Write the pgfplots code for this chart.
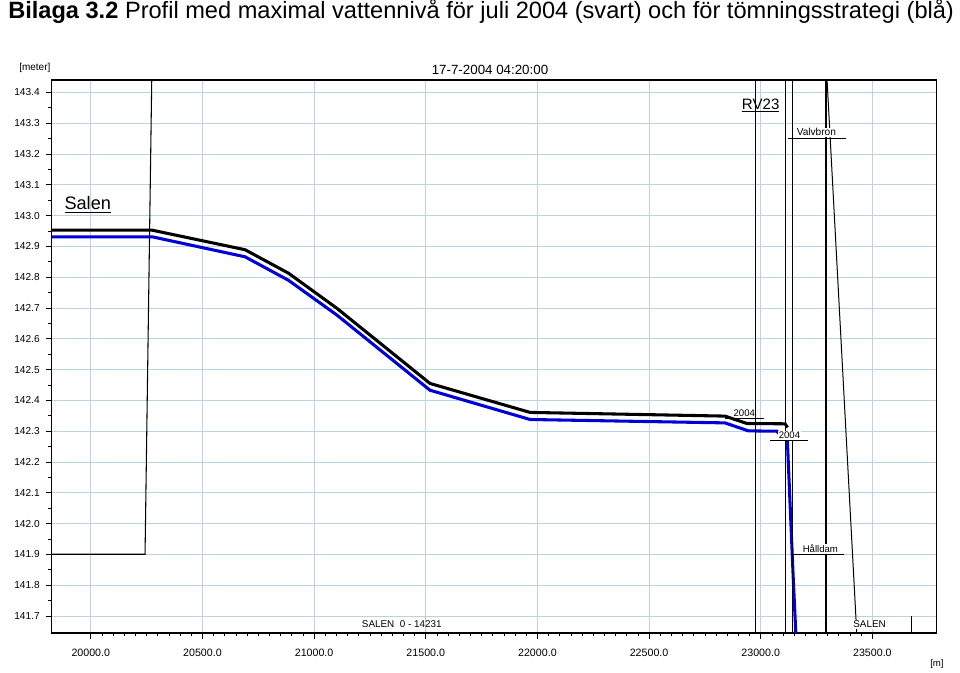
\documentclass[border=0pt]{standalone}
\usepackage{fontspec}
\setmainfont{Liberation Sans}
\usepackage{pgfplots}
\pgfplotsset{compat=1.18}
\definecolor{gridc}{RGB}{185,210,228}
\definecolor{lineblue}{RGB}{0,0,215}
\newcommand{\fs}[1]{\fontsize{#1}{#1}\selectfont}
\begin{document}
\begin{tikzpicture}
\path[use as bounding box] (0,0) rectangle (720pt,504.75pt);
\begin{axis}[
  at={(38.775pt,30pt)}, anchor=south west,
  scale only axis, width=663.75pt, height=414.75pt,
  xmin=19825, xmax=23788, ymin=141.645, ymax=143.44,
  xtick={20000,20500,21000,21500,22000,22500,23000,23500},
  ytick={141.7,141.8,141.9,142.0,142.1,142.2,142.3,142.4,142.5,142.6,142.7,142.8,142.9,143.0,143.1,143.2,143.3,143.4},
  minor x tick num=9, minor y tick num=1,
  scaled ticks=false,
  tick align=outside, tick pos=left,
  major tick length=4.5pt, minor tick length=2.6pt,
  grid=major, major grid style={gridc, line width=0.6pt},
  axis line style={line width=0.8pt},
  tick style={black, line width=0.6pt},
  /pgf/number format/assume math mode=true,
  xticklabel={\pgfmathprintnumber[fixed,fixed zerofill,precision=1,1000 sep={}]{\tick}},
  yticklabel={\pgfmathprintnumber[fixed,fixed zerofill,precision=1]{\tick}},
  xticklabel style={font=\fs{8}, anchor=north, yshift=-4pt},
  yticklabel style={font=\fs{7.6}, anchor=east, xshift=-1pt},
]
% bank / structure profile at Salen
\addplot[black, line width=0.8pt] coordinates {(19700,141.9005) (20243,141.9005) (20273,143.44) (20276,143.6)};
% maximal water level July 2004 (black)
\addplot[black, line width=2.3pt] coordinates {
(19700,142.9525) (20275,142.9525) (20691,142.889) (20885,142.813) (21102,142.699)
(21519,142.455) (21967,142.361) (22840,142.349) (22938,142.325) (23109,142.324) (23120,142.312)};
% emptying strategy (blue)
\addplot[lineblue, line width=2.3pt] coordinates {
(19700,142.931) (20275,142.931) (20691,142.866) (20885,142.790) (21102,142.677)
(21519,142.433) (21967,142.338) (22840,142.327) (22945,142.301) (23072,142.300)
(23119.5,142.266) (23146,141.816) (23160,141.6)};
% structures
\addplot[black, line width=0.75pt] coordinates {(22978,141.6) (22978,143.5)};
\addplot[black, line width=0.75pt] coordinates {(23110.5,141.6) (23110.5,143.5)};
\addplot[black, line width=0.75pt] coordinates {(23143.6,141.6) (23143.6,143.5)};
\addplot[black, line width=1.6pt] coordinates {(23292.7,141.6) (23292.7,143.5)};
\addplot[black, line width=0.75pt] coordinates {(23292.6,143.5) (23433.3,141.6)};
\addplot[black, line width=0.75pt] coordinates {(23676.5,141.70) (23676.5,141.6)};
\end{axis}
\begin{scope}[x=0.75pt,y=-0.75pt,shift={(0pt,504.75pt)}]
\node[anchor=base west, inner sep=0pt, font=\fs{17.7}] at (8,19)
  {\textbf{Bilaga 3.2} Profil med maximal vattennivå för juli 2004 (svart) och för tömningsstrategi (blå)};
\node[anchor=base west, inner sep=0pt, font=\fs{7.5}] at (19,71) {[meter]};
\node[anchor=base, inner sep=0pt, font=\fs{10}] at (490,75) {17-7-2004 04:20:00};
\node[anchor=base west, inner sep=0pt, font=\fs{7.2}] at (930,667) {[m]};
\node[anchor=base west, inner sep=0pt, font=\fs{13.6}] at (64.3,210) {\underline{Salen}};
\node[anchor=base west, inner sep=0pt, font=\fs{11.3}] at (741.7,109.3) {\underline{RV23}};
\node[anchor=base west, inner sep=0.6pt, fill=white, font=\fs{7.6}] at (795.7,136) {Valvbron};
\draw[line width=0.7pt] (788.3,138.7) -- (845.7,138.7);
\node[anchor=base west, inner sep=0pt, font=\fs{7.2}] at (733.3,417) {2004};
\draw[line width=0.7pt] (725,418.7) -- (764,418.7);
\node[anchor=base west, inner sep=0.6pt, fill=white, font=\fs{7.2}] at (777.7,439) {2004};
\draw[line width=0.7pt] (770,440.3) -- (808.3,440.3);
\node[anchor=base west, inner sep=0.6pt, fill=white, font=\fs{7.2}] at (801.7,552.7) {Hålldam};
\draw[line width=0.7pt] (792.7,554.3) -- (844,554.3);
\node[anchor=base west, inner sep=0pt, font=\fs{7.4}] at (361.7,627.7) {SALEN\ \ 0 - 14231};
\node[anchor=base west, inner sep=0.6pt, fill=white, font=\fs{7.4}] at (852.3,627.7) {SALEN};
\end{scope}
\end{tikzpicture}
\end{document}
